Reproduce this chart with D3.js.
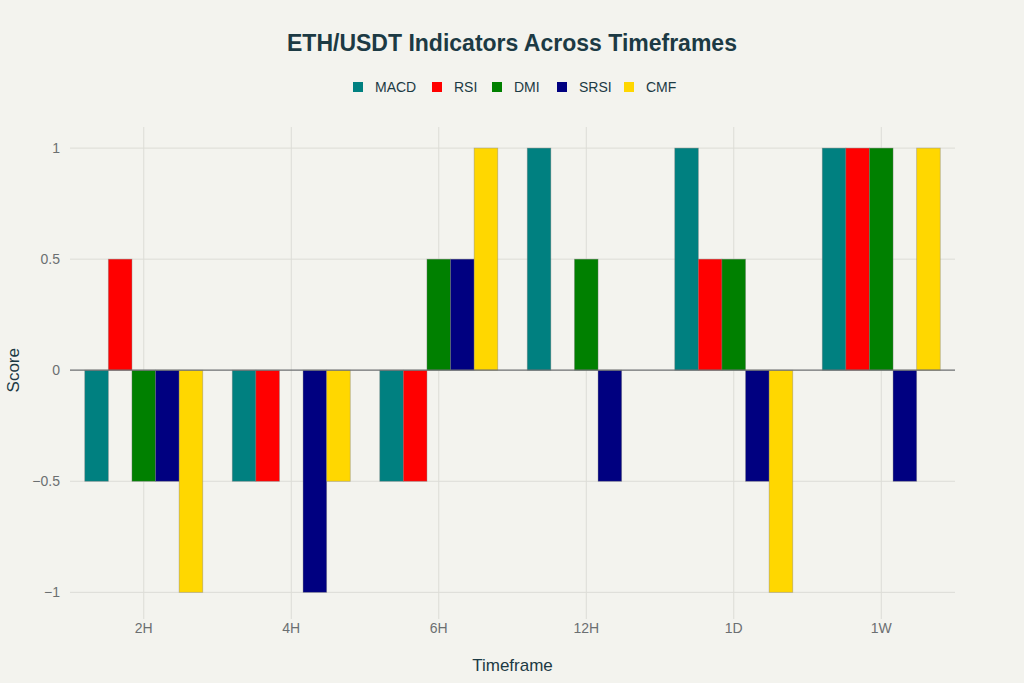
<!DOCTYPE html>
<html>
<head>
<meta charset="utf-8">
<script src="https://cdn.jsdelivr.net/npm/d3@7"></script>
<title>ETH/USDT Indicators Across Timeframes</title>
<style>
body { margin:0; background:#f3f3ee; }
text { font-family: "Liberation Sans", Arial, sans-serif; }
.tick text { fill:#6b6f71; font-size:14px; }
.grid line { stroke:#dcdcd6; stroke-width:1; }
</style>
</head>
<body>
<script>

// categories and series
var timeframes = ["2H","4H","6H","12H","1D","1W"];
var indicators = ["MACD","RSI","DMI","SRSI","CMF"];
var colors = ["#008080","#ff0000","#008000","#000080","#ffd700"];

var macd = [-0.5,-0.5,-0.5, 1, 1, 1];
var rsi  = [ 0.5,-0.5,-0.5, 0, 0.5, 1];
var dmi  = [-0.5, 0, 0.5, 0.5, 0.5, 1];
var srsi = [-0.5,-1, 0.5,-0.5,-0.5,-0.5];
var cmf  = [-1,-0.5, 1, 0,-1, 1];

var yTicks = [-1,-0.5,0,0.5,1];

var series = [macd, rsi, dmi, srsi, cmf];

var W = 1024, H = 683;
var m = {left:70, right:69, top:127, bottom:64};

var svg = d3.select("body").append("svg").attr("width",W).attr("height",H);

var x0 = d3.scaleBand().domain(timeframes).range([m.left, W-m.right]);
var y = d3.scaleLinear().domain([-1.12,1.095]).range([H-m.bottom, m.top]);
var xs = d3.scaleBand().domain(indicators).range([0, x0.bandwidth()*0.8]);

// grid
svg.append("g").attr("class","grid")
  .selectAll("line").data(timeframes).join("line")
  .attr("x1",d=>x0(d)+x0.bandwidth()/2).attr("x2",d=>x0(d)+x0.bandwidth()/2)
  .attr("y1",m.top).attr("y2",H-m.bottom);
svg.append("g").attr("class","grid")
  .selectAll("line").data(yTicks.filter(d=>d!==0)).join("line")
  .attr("x1",m.left).attr("x2",W-m.right)
  .attr("y1",d=>y(d)).attr("y2",d=>y(d));

// bars
var rows = [];
series.forEach(function(s,i){
  s.forEach(function(v,j){ rows.push({ind:indicators[i], tf:timeframes[j], v:v, c:colors[i]}); });
});
svg.append("g").selectAll("rect").data(rows.filter(d=>d.v!==0)).join("rect")
  .attr("x",d=>x0(d.tf)+x0.bandwidth()*0.1+xs(d.ind))
  .attr("width",xs.bandwidth())
  .attr("y",d=>y(Math.max(0,d.v)))
  .attr("height",d=>Math.abs(y(d.v)-y(0)))
  .attr("fill",d=>d.c)
  .attr("stroke","rgba(120,120,120,0.45)").attr("stroke-width",0.8);

// zero line
svg.append("line").attr("x1",m.left).attr("x2",W-m.right)
  .attr("y1",y(0)).attr("y2",y(0)).attr("stroke","#6d6f70").attr("stroke-width",1.2);

// axes
var yAxis = svg.append("g").attr("transform","translate("+(m.left-6)+",0)")
  .call(d3.axisLeft(y).tickValues(yTicks).tickSize(0).tickPadding(4).tickFormat(d=>d3.format("")(d).replace("-","\u2212")));
yAxis.select(".domain").remove();

var xAxis = svg.append("g").attr("transform","translate(0,"+(H-m.bottom)+")")
  .call(d3.axisBottom(x0).tickSize(0).tickPadding(4));
xAxis.select(".domain").remove();

// titles
svg.append("text").attr("x",512).attr("y",51).attr("text-anchor","middle")
  .style("font-size","23px").style("font-weight","bold").attr("fill","#1c3a44")
  .text("ETH/USDT Indicators Across Timeframes");

svg.append("text").attr("transform","translate(19,"+y(0)+") rotate(-90)")
  .attr("text-anchor","middle").style("font-size","17px").attr("fill","#1c3a44").text("Score");

svg.append("text").attr("x",(m.left+W-m.right)/2).attr("y",671).attr("text-anchor","middle")
  .style("font-size","17px").attr("fill","#1c3a44").text("Timeframe");

// legend
var leg = svg.append("g").selectAll("g").data(indicators).join("g")
  .attr("transform",(d,i)=>"translate("+[353,432,492,557,624][i]+",82)");
leg.append("rect").attr("width",10).attr("height",10).attr("fill",(d,i)=>colors[i]);
leg.append("text").attr("x",22).attr("y",10).style("font-size","14px").attr("fill","#1c3a44").text(d=>d);

</script>
</body>
</html>
